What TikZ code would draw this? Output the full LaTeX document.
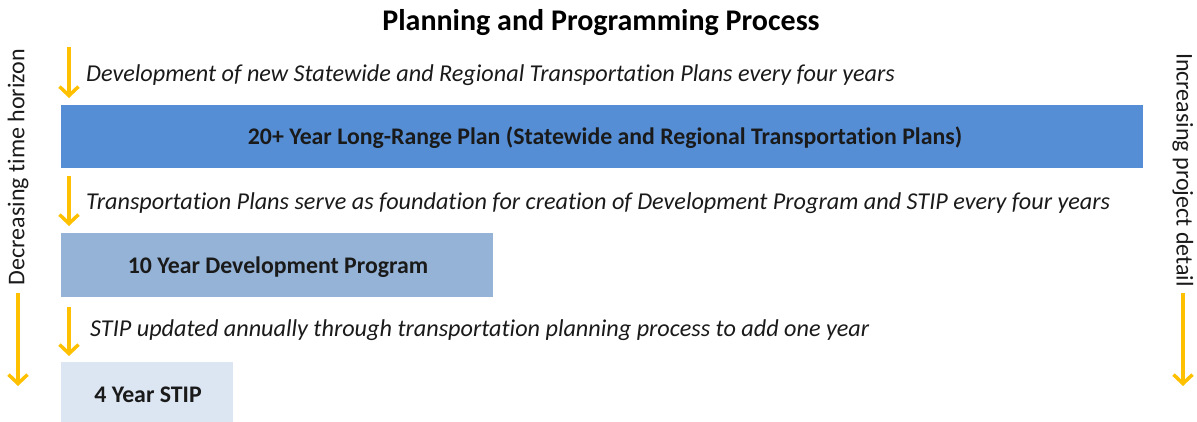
\documentclass[tikz,border=0pt]{standalone}
\usepackage{fontspec}
\setmainfont{Carlito}[Ligatures={NoCommon}]
\usetikzlibrary{arrows.meta}
\definecolor{arrowc}{HTML}{FFC000}
\definecolor{boxa}{HTML}{558ED5}
\definecolor{boxb}{HTML}{95B3D7}
\definecolor{boxc}{HTML}{DCE6F2}
\definecolor{txt}{HTML}{1A1A1A}
\begin{document}
\begin{tikzpicture}[x=1pt,y=-1pt,
  yarrow/.style={draw=arrowc,line width=3.5pt,-{Straight Barb[length=9pt,width=19pt]}},
  plan/.style={anchor=west,font=\fontsize{24.2}{28}\selectfont\itshape,text=txt,inner sep=0pt},
  box/.style={anchor=north west,inner sep=0pt,font=\fontsize{23.8}{28}\selectfont\bfseries,text=txt},
  side/.style={font=\fontsize{24}{28}\selectfont,text=txt,inner sep=0pt}]
\useasboundingbox (0,0) rectangle (1197,421);
\node[font=\fontsize{30}{34}\selectfont\bfseries,text=black,inner sep=0pt] (title) at (601,23) {Planning and Programming Process};
% boxes
\node[box,fill=boxa,minimum width=1082pt,minimum height=63pt] (b1) at (61,105) {};
\node[box,anchor=center] (t1) at (605,138) {20+ Year Long-Range Plan (Statewide and Regional Transportation Plans)};
\node[box,fill=boxb,minimum width=432pt,minimum height=64pt] (b2) at (61,233) {};
\node[box,anchor=center] (t2) at (278,267) {10 Year Development Program};
\node[box,fill=boxc,minimum width=172pt,minimum height=60pt] (b3) at (61,362) {};
\node[box,anchor=center] (t3) at (148,395) {4 Year STIP};
% plan texts
\node[plan] (p1) at (86,75) {Development of new Statewide and Regional Transportation Plans every four years};
\node[plan] (p2) at (86,203) {Transportation Plans serve as foundation for creation of Development Program and STIP every four years};
\node[plan] (p3) at (90,330) {STIP updated annually through transportation planning process to add one year};
% arrows
\coordinate (a1s) at (69,47); \coordinate (a1e) at (69,98);
\coordinate (a2s) at (69,176); \coordinate (a2e) at (69,226);
\coordinate (a3s) at (69,307); \coordinate (a3e) at (69,356);
\draw[yarrow] (a1s) -- (a1e);
\draw[yarrow] (a2s) -- (a2e);
\draw[yarrow] (a3s) -- (a3e);
% side labels
\node[side,rotate=90] (ls) at (18,167) {Decreasing time horizon};
\node[side,rotate=-90] (rs) at (1183,170) {Increasing project detail};
\coordinate (lt) at (18,293); \coordinate (la) at (18,386);
\coordinate (rt) at (1183,293); \coordinate (ra) at (1183,386);
\draw[yarrow] (lt) -- (la);
\draw[yarrow] (rt) -- (ra);
\end{tikzpicture}
\end{document}
